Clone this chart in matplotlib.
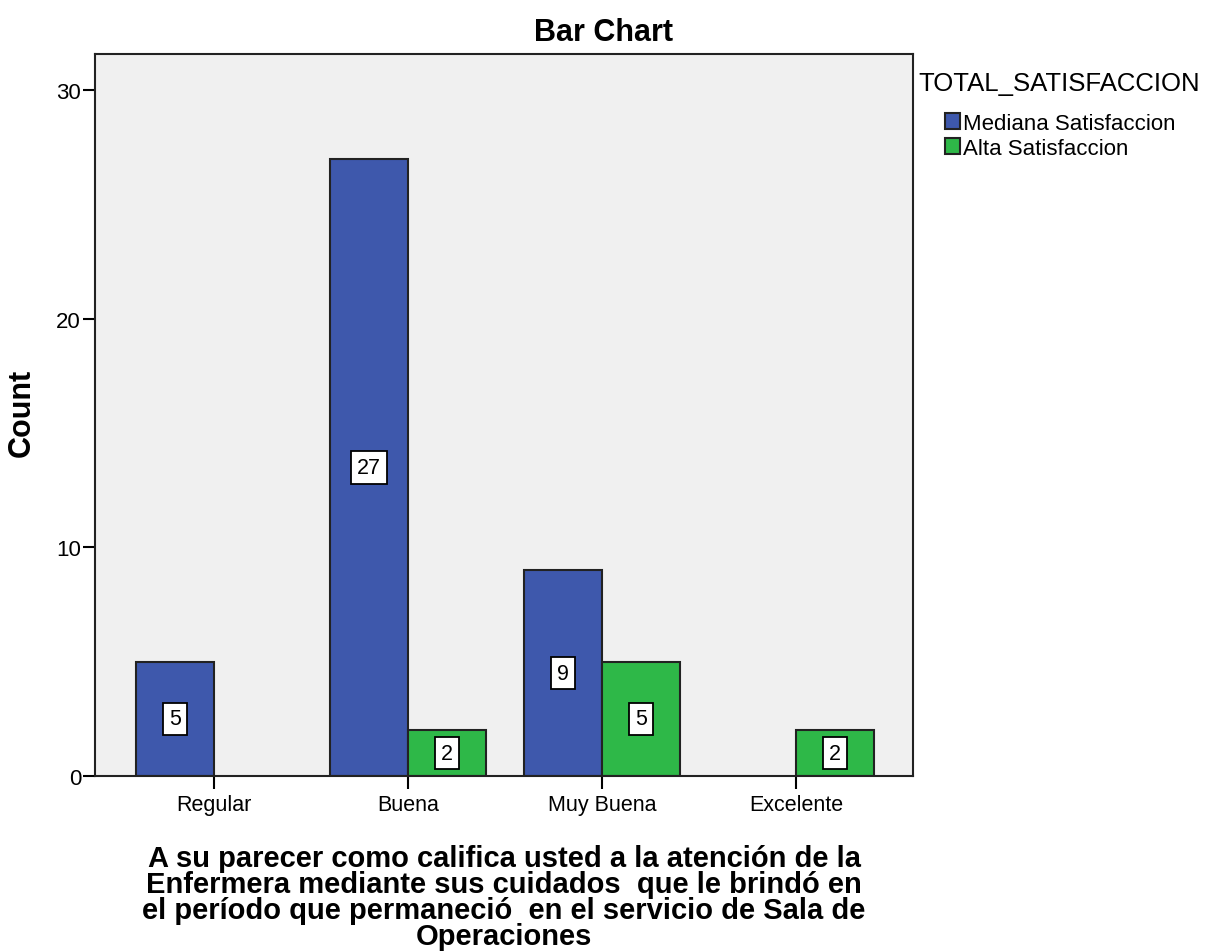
import matplotlib
matplotlib.use("Agg")
import matplotlib.pyplot as plt
import numpy as np

categories = ["Regular", "Buena", "Muy Buena", "Excelente"]
series_names = ["Mediana Satisfaccion", "Alta Satisfaccion"]
mediana = [5, 27, 9, 0]
alta = [0, 2, 5, 2]
yticks = [0, 10, 20, 30]
legend_title = "TOTAL_SATISFACCION"
title = "Bar Chart"
ylabel = "Count"
xlabel = ("A su parecer como califica usted a la atención de la\n"
          "Enfermera mediante sus cuidados  que le brindó en\n"
          "el período que permaneció  en el servicio de Sala de\n"
          "Operaciones")

plt.rcParams['font.family'] = ['Liberation Sans', 'DejaVu Sans']

W, H = 1208, 953
fig = plt.figure(figsize=(W / 100, H / 100), dpi=100)
ax = fig.add_axes([95 / W, (H - 777) / H, (913 - 95) / W, (777 - 55) / H])
ax.set_facecolor("#F0F0F0")

x = np.arange(len(categories))
bw = 0.4
colors = ["#3E58AC", "#2EB848"]
bars = []
for i, (vals, c, name) in enumerate(zip([mediana, alta], colors, series_names)):
    offs = (i - 0.5) * bw
    xs = [xi + offs for xi, v in zip(x, vals) if v > 0]
    vs = [v for v in vals if v > 0]
    b = ax.bar(xs, vs, width=bw, color=c, edgecolor="#222222", linewidth=1.5, label=name)
    bars.append(b)
    ax.bar_label(b, label_type="center", fontsize=15.5,
                 bbox=dict(boxstyle="square,pad=0.27", facecolor="white",
                           edgecolor="black", linewidth=1.3))

ax.set_xlim(-0.613, 3.603)
ax.set_ylim(0, 31.57)
ax.set_yticks(yticks)
ax.set_xticks(x)
ax.set_xticklabels(categories, fontsize=15.5)
ax.tick_params(axis="y", labelsize=16, length=9, width=1.5, direction="out", pad=1)
ax.tick_params(axis="x", length=9, width=1.5, direction="out", pad=4)
for s in ax.spines.values():
    s.set_linewidth(1.5)
    s.set_color("#222222")

fig.text(604 / W, 1 - 33 / H, title, ha="center", va="center", fontsize=22, fontweight="bold")
fig.text(22 / W, 1 - 413 / H, ylabel, ha="center", va="center", rotation=90,
         fontsize=22, fontweight="bold")
fig.text(504 / W, 1 - 898 / H, xlabel, ha="center", va="center", fontsize=21,
         fontweight="bold", linespacing=0.92)

fig.text(918 / W, 1 - 84 / H, legend_title, ha="left", va="center", fontsize=18.5)
leg = fig.legend(handles=bars, labels=series_names,
                 loc="upper left", bbox_to_anchor=(929 / W, 1 - 98 / H),
                 frameon=False, fontsize=16,
                 handlelength=0.7, handleheight=0.7, handletextpad=0.15,
                 labelspacing=0.2, borderpad=0.2)

fig.savefig("out.png", dpi=100)
